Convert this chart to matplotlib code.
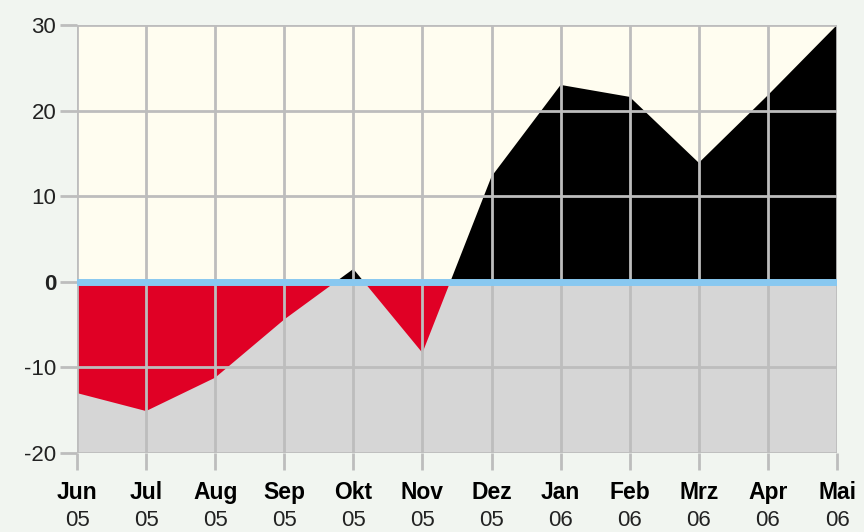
import matplotlib
matplotlib.use("Agg")
import matplotlib.pyplot as plt
import numpy as np

months = ["Jun", "Jul", "Aug", "Sep", "Okt", "Nov", "Dez", "Jan", "Feb", "Mrz", "Apr", "Mai"]
years = ["05", "05", "05", "05", "05", "05", "05", "06", "06", "06", "06", "06"]
values = [-13.0, -15.1, -11.2, -4.4, 1.5, -8.3, 12.3, 23.0, 21.6, 13.9, 21.8, 30.0]
yticks = [-20, -10, 0, 10, 20, 30]

fam = ["Liberation Sans Narrow", "Liberation Sans", "DejaVu Sans"]
plt.rcParams["font.family"] = fam

fig = plt.figure(figsize=(8.64, 5.32), dpi=100, facecolor="#f1f5f0")
ax = fig.add_axes([77/864, 1-453/532, (837-77)/864, (453-25)/532])
x = np.arange(len(values))
v = np.array(values)

ax.axhspan(0, 30, color="#fffdf0", zorder=0, lw=0)
ax.axhspan(-20, 0, color="#d6d6d6", zorder=0, lw=0)
ax.fill_between(x, v, 0, where=v >= 0, interpolate=True, color="black", lw=0, zorder=1)
ax.fill_between(x, v, 0, where=v <= 0, interpolate=True, color="#e00025", lw=0, zorder=1)

gc = "#bdbdbd"
for xi in x:
    ax.axvline(xi, color=gc, lw=2, zorder=2)
for yt in yticks:
    ax.axhline(yt, color=gc, lw=2, zorder=2)
ax.axhline(0, color="#88c8f0", lw=5, zorder=3)

ax.set_xlim(0, len(values) - 1)
ax.set_ylim(-20, 30)
for s in ax.spines.values():
    s.set_visible(False)

ax.set_yticks(yticks)
ax.set_yticklabels([str(t) for t in yticks], fontsize=16, color="#222222")
for lab, t in zip(ax.get_yticklabels(), yticks):
    if t == 0:
        lab.set_fontweight("bold")
ax.set_xticks(x)
ax.set_xticklabels(months, fontsize=16.5, fontweight="bold", color="black")
ax.tick_params(axis="y", length=12, width=2, color=gc, pad=3)
ax.tick_params(axis="x", length=12, width=2, color=gc, pad=8)
for xi, yr in zip(x, years):
    ax.text(xi, (453 - 521) / 428, yr, transform=ax.get_xaxis_transform(), ha="center", va="center",
            fontsize=16, color="#222222")

fig.savefig("out.png", dpi=100, facecolor=fig.get_facecolor())
